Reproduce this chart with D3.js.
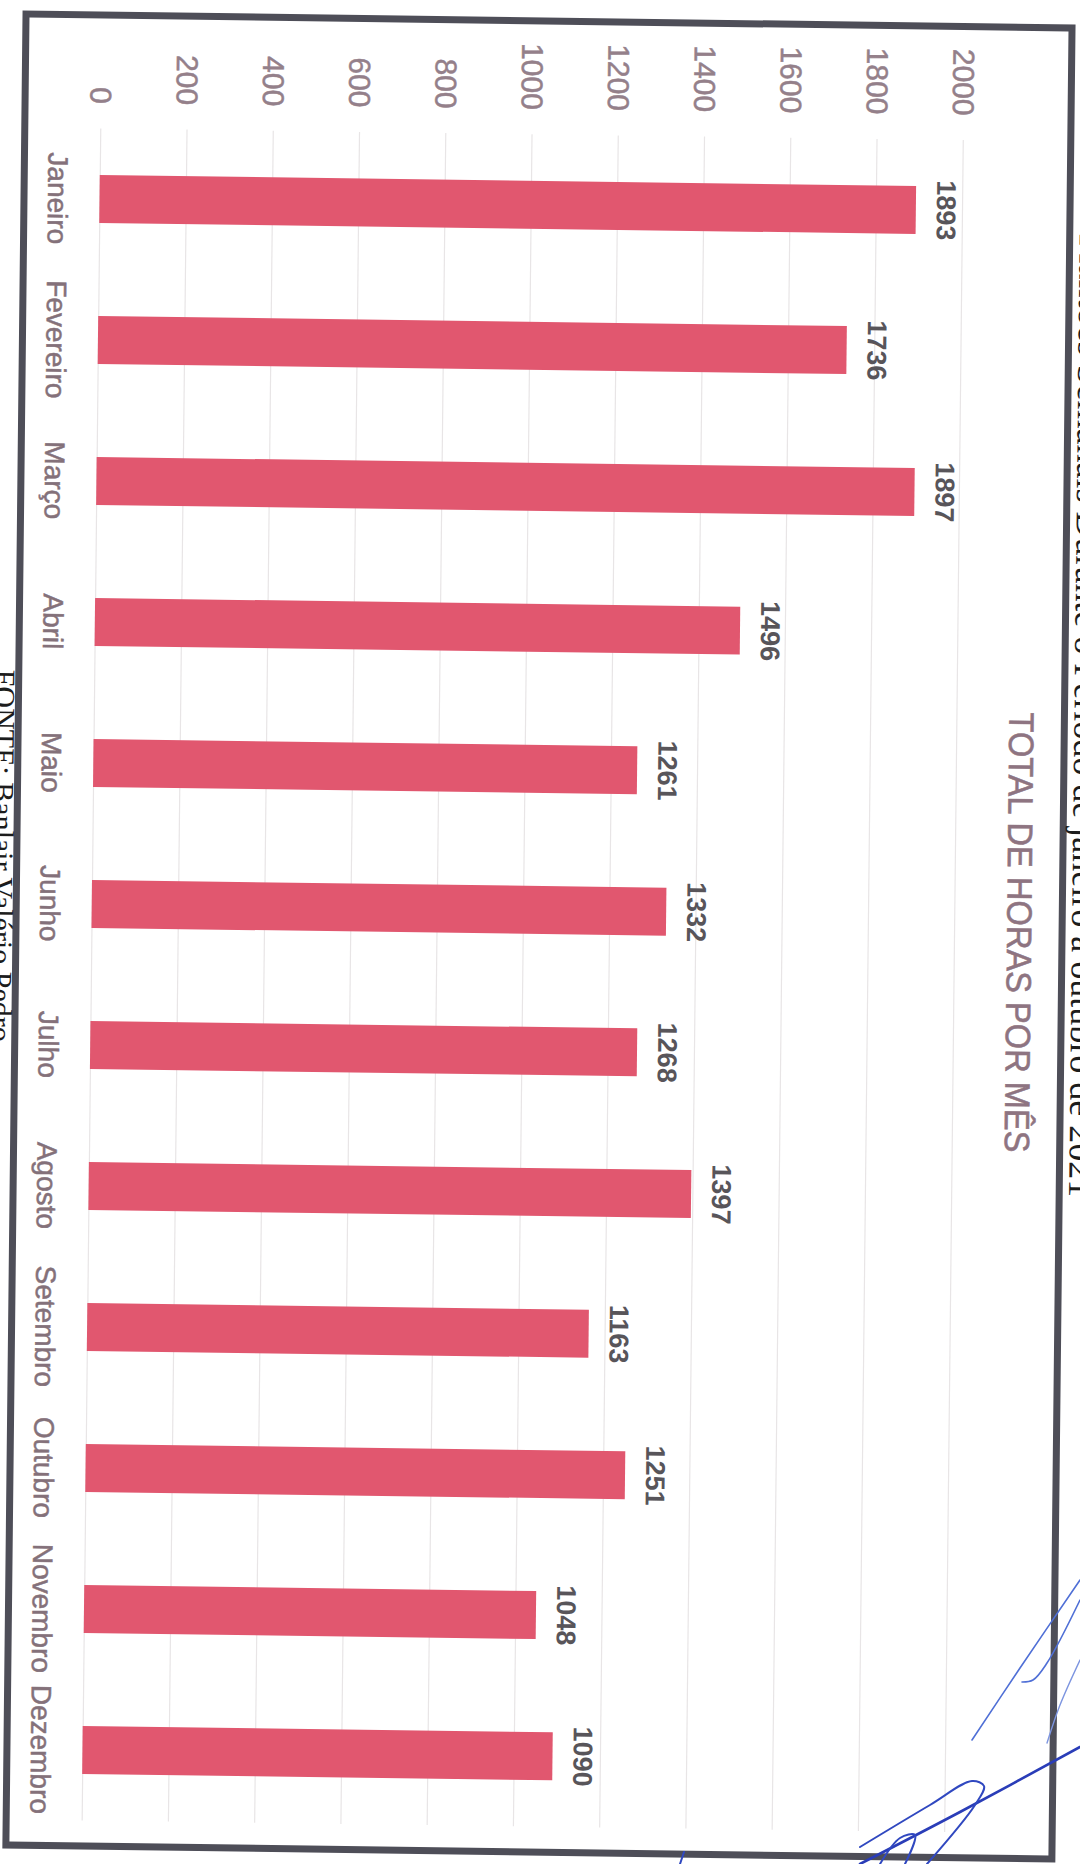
<!DOCTYPE html>
<html>
<head>
<meta charset="utf-8">
<script src="https://cdn.jsdelivr.net/npm/d3@7"></script>
<style>
  html, body { margin: 0; padding: 0; background: #ffffff; }
  svg { display: block; }
</style>
</head>
<body>
<div id="chart"></div>
<script>
// data
const months = ["Janeiro", "Fevereiro", "Março", "Abril", "Maio", "Junho",
                "Julho", "Agosto", "Setembro", "Outubro", "Novembro", "Dezembro"];
const horas = [1893, 1736, 1897, 1496, 1261, 1332, 1268, 1397, 1163, 1251, 1048, 1090];
const tickValues = [0, 200, 400, 600, 800, 1000, 1200, 1400, 1600, 1800, 2000];

const title = "TOTAL DE HORAS POR MÊS";
const caption = "Plantões Semanais Durante o Período de janeiro a outubro de 2021";
const fonte = "FONTE: Banlair Valério Pedro";

const W = 1080, H = 1864;

const svg = d3.select("#chart").append("svg")
    .attr("width", W)
    .attr("height", H);

svg.append("rect").attr("width", W).attr("height", H).attr("fill", "#ffffff");

// the scanned page is a little skewed
const page = svg.append("g")
    .attr("transform", "matrix(1,0.0135,-0.011,1,10.25,-7.29)");

// value axis runs left -> right, months run top -> bottom (chart turned 90deg)
let x = d3.scaleLinear().domain([0, 2000]).range([91.5, 954]);
let y = d3.scaleBand().domain(months)
    .range([134.5, 1826.5])
    .paddingInner(0.66)
    .paddingOuter(0.33);

// gridlines
let grid = page.append("g")
    .attr("transform", "translate(0," + y.range()[1] + ")")
    .call(d3.axisBottom(x)
        .tickValues(tickValues)
        .tickSize(-(y.range()[1] - y.range()[0]))
        .tickFormat(""));
grid.select(".domain").remove();
grid.selectAll("line").attr("stroke", "#e8e5e6").attr("stroke-width", 1.2);

// tick labels (rotated)
let axis = page.append("g")
    .attr("transform", "translate(0,110)")
    .call(d3.axisTop(x).tickValues(tickValues).tickFormat(d3.format("d")).tickSize(0).tickPadding(0));
axis.select(".domain").remove();
axis.selectAll("text")
    .attr("transform", "rotate(90)")
    .attr("x", 0)
    .attr("y", 0)
    .attr("dy", "0.36em")
    .attr("text-anchor", "end")
    .attr("fill", "#94808a")
    .attr("stroke", "#94808a")
    .attr("stroke-width", 0.5)
    .style("font-family", "'Liberation Sans', Arial, sans-serif")
    .style("font-size", "30px");

// bars
page.append("g").attr("id", "bars")
    .selectAll("rect")
    .data(horas)
    .enter()
    .append("rect")
    .attr("x", x(0))
    .attr("y", (d, i) => y(months[i]))
    .attr("width", d => x(d) - x(0))
    .attr("height", y.bandwidth())
    .attr("fill", "#e1576f");

// value labels
page.append("g")
    .selectAll("text")
    .data(horas)
    .enter()
    .append("text")
    .attr("transform", (d, i) => "translate(" + (x(d) + 21) + "," + (y(months[i]) + y.bandwidth() / 2) + ") rotate(90)")
    .attr("text-anchor", "middle")
    .attr("fill", "#58555a")
    .style("font-family", "'Liberation Sans', Arial, sans-serif")
    .style("font-weight", "bold")
    .style("font-size", "27px")
    .text(d => d);

// month labels
page.append("g")
    .selectAll("text")
    .data(months)
    .enter()
    .append("text")
    .attr("transform", d => "translate(40," + (y(d) + y.bandwidth() / 2) + ") rotate(90)")
    .attr("text-anchor", "middle")
    .attr("fill", "#84717a")
    .attr("stroke", "#84717a")
    .attr("stroke-width", 0.5)
    .style("font-family", "'Liberation Sans', Arial, sans-serif")
    .style("font-size", "28px")
    .text(d => d);

// title
page.append("text")
    .attr("transform", "translate(1007,926) rotate(90)")
    .attr("text-anchor", "middle")
    .attr("textLength", 440)
    .attr("lengthAdjust", "spacingAndGlyphs")
    .attr("fill", "#8e7481")
    .attr("stroke", "#8e7481")
    .attr("stroke-width", 0.6)
    .style("font-family", "'Liberation Sans', Arial, sans-serif")
    .style("font-size", "35px")
    .text(title);

// frame
page.append("rect")
    .attr("x", 16).attr("y", 21)
    .attr("width", 1062 - 16).attr("height", 1852 - 21)
    .attr("fill", "none")
    .attr("stroke", "#4e4e58")
    .attr("stroke-width", 7);

// document text cut by the page edges
page.append("text")
    .attr("transform", "translate(1072,1190) rotate(90)")
    .attr("text-anchor", "end")
    .attr("fill", "#1c1c1c")
    .style("font-family", "'Liberation Serif', 'Times New Roman', serif")
    .style("font-size", "36px")
    .text(caption);

page.append("text")
    .attr("transform", "translate(-8,677) rotate(90)")
    .attr("text-anchor", "start")
    .attr("fill", "#1c1c1c")
    .style("font-family", "'Liberation Serif', 'Times New Roman', serif")
    .style("font-size", "30px")
    .text(fonte);

// pen signature, bottom right (decoration)
const sigStrokes = [
    {pts: [[972, 1740], [1020, 1668], [1080, 1580]], w: 1.6, c: "#4f6fd6"},
    {pts: [[1022, 1682], [1033, 1680], [1047, 1663], [1080, 1600]], w: 1.6, c: "#4f6fd6"},
    {pts: [[1047, 1743], [1060, 1705], [1080, 1660]], w: 1.4, c: "#7d95e0"},
    {pts: [[860, 1864], [960, 1812], [1080, 1747]], w: 2.6, c: "#2a3db8"},
    {pts: [[860, 1847], [930, 1805], [972, 1781], [984, 1786], [975, 1805], [927, 1864]], w: 2, c: "#3048c0"},
    {pts: [[880, 1864], [900, 1838], [915, 1835], [905, 1864]], w: 2, c: "#3048c0"},
    {pts: [[684, 1852], [680, 1864]], w: 2, c: "#3048c0"}
];
let sigLine = d3.line().curve(d3.curveCatmullRom);
svg.append("g")
    .selectAll("path")
    .data(sigStrokes)
    .enter()
    .append("path")
    .attr("d", d => sigLine(d.pts))
    .attr("fill", "none")
    .attr("stroke", d => d.c)
    .attr("stroke-width", d => d.w)
    .attr("stroke-linecap", "round");
</script>
</body>
</html>
